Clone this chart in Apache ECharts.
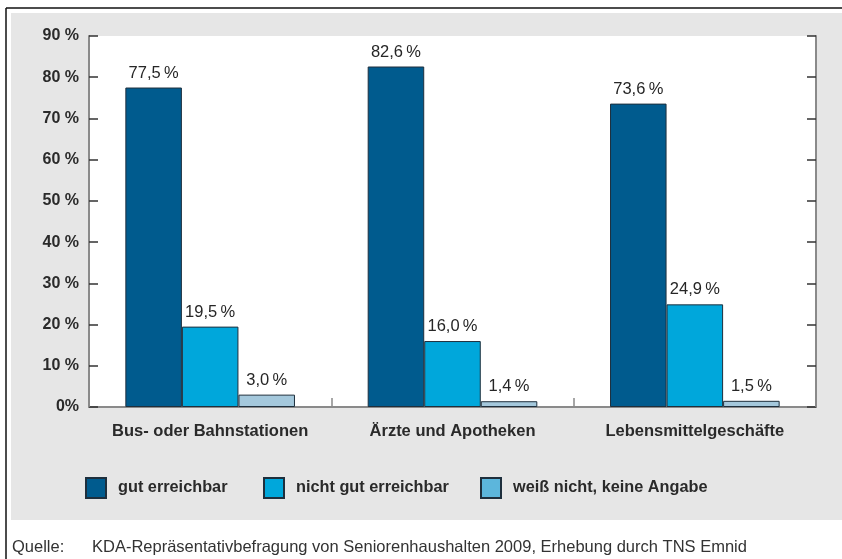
<!DOCTYPE html>
<html>
<head>
<meta charset="utf-8">
<script src="https://cdn.jsdelivr.net/npm/echarts@6/dist/echarts.min.js"></script>
<style>
  html, body { margin: 0; padding: 0; background: #fff; }
  #chart { width: 842px; height: 559px; }
</style>
</head>
<body>
<div id="chart"></div>
<script>
// Daten
const categories = ['Bus- oder Bahnstationen', 'Ärzte und Apotheken', 'Lebensmittelgeschäfte']
const seriesNames = ['gut erreichbar', 'nicht gut erreichbar', 'weiß nicht, keine Angabe']
const gutErreichbar = [77.5, 82.6, 73.6]
const nichtGutErreichbar = [19.5, 16.0, 24.9]
const weissNicht = [3.0, 1.4, 1.5]
const yTicks = [0, 10, 20, 30, 40, 50, 60, 70, 80, 90]
const sourceText = 'KDA-Repräsentativbefragung von Seniorenhaushalten 2009, Erhebung durch TNS Emnid'

const barColors = ['#005b8e', '#00a7db', '#a4c8dc']
const legendColors = ['#005b8e', '#00a7db', '#5cb6dc']
const font = '"Liberation Sans", Arial, sans-serif'

const chart = echarts.init(document.getElementById('chart'))

// Zahl mit Komma formatieren
const fmt = v => v.toFixed(1).replace('.', ',') + '\u2009%'

const yAxisBase = {
  type: 'value',
  min: yTicks[0],
  max: yTicks[yTicks.length - 1],
  interval: 10,
  splitLine: { show: false },
  axisLine: { show: true, lineStyle: { color: '#8a8a8a', width: 2 } },
  axisTick: { show: true, inside: true, length: 9, lineStyle: { color: '#333', width: 1.5 } }
}

const makeSeries = (name, data, i) => ({
  name: name,
  type: 'bar',
  data: data,
  barGap: '0%',
  barCategoryGap: '30%',
  itemStyle: { color: barColors[i], borderColor: '#1e2f3d', borderWidth: 1 },
  label: {
    show: true,
    position: 'top',
    distance: 6,
    formatter: p => fmt(p.value),
    fontFamily: font,
    fontSize: 16.5,
    color: '#262626'
  }
})

const makeLegend = (i, left) => ({
  left: left,
  top: 472,
  itemWidth: 20,
  itemHeight: 20,
  icon: 'rect',
  selectedMode: false,
  data: [{ name: seriesNames[i], itemStyle: { color: legendColors[i], borderColor: '#1e2f3d', borderWidth: 2 } }],
  textStyle: { fontFamily: font, fontSize: 16.3, fontWeight: 'bold', color: '#2a2a2a', padding: [0, 0, 0, 7] }
})

const option = {
  backgroundColor: '#fff',
  animation: false,
  graphic: [
    { type: 'rect', z: -10, shape: { x: 11, y: 13, width: 831, height: 507 }, style: { fill: '#e6e6e6' } },
    { type: 'line', z: -10, shape: { x1: 6, y1: 8, x2: 842, y2: 8 }, style: { stroke: '#111', lineWidth: 1.5 } },
    { type: 'line', z: -10, shape: { x1: 6, y1: 8, x2: 6, y2: 559 }, style: { stroke: '#111', lineWidth: 1.5 } },
    { type: 'text', left: 12, top: 539, style: { text: 'Quelle:', font: '16.5px ' + font, fill: '#333' } },
    { type: 'text', left: 92, top: 539, style: { text: sourceText, font: '16.5px ' + font, fill: '#333' } }
  ],
  grid: {
    left: 89, right: 26, top: 36, bottom: 152,
    show: true, backgroundColor: '#fff', borderWidth: 0
  },
  legend: [makeLegend(0, 80), makeLegend(1, 258), makeLegend(2, 475)],
  xAxis: {
    type: 'category',
    data: categories,
    axisLine: { lineStyle: { color: '#8a8a8a', width: 2 } },
    axisTick: { show: true, inside: true, interval: 0, length: 9, lineStyle: { color: '#8a8a8a', width: 1.5 } },
    axisLabel: { interval: 0, hideOverlap: false, margin: 16, fontFamily: font, fontSize: 16.5, fontWeight: 'bold', color: '#2a2a2a' }
  },
  yAxis: [
    Object.assign({}, yAxisBase, {
      position: 'left',
      axisLabel: {
        margin: 10,
        fontFamily: font,
        fontSize: 16,
        fontWeight: 'bold',
        color: '#2a2a2a',
        formatter: v => v === 0 ? '0%' : v + ' %'
      }
    }),
    Object.assign({}, yAxisBase, { position: 'right', axisLabel: { show: false } })
  ],
  series: [
    makeSeries(seriesNames[0], gutErreichbar, 0),
    makeSeries(seriesNames[1], nichtGutErreichbar, 1),
    makeSeries(seriesNames[2], weissNicht, 2)
  ]
}

chart.setOption(option)
</script>
</body>
</html>
